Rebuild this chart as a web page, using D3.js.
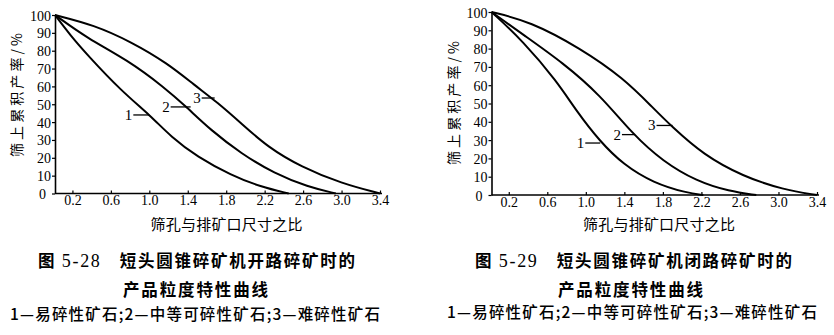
<!DOCTYPE html>
<html><head><meta charset="utf-8">
<script src="https://cdn.jsdelivr.net/npm/d3@7"></script>
<style>
html,body{margin:0;padding:0;background:#fff;}
svg{display:block;}
</style></head>
<body><svg id="c" width="834" height="335"></svg>
<script>
// ---- data ----
const xTicks = [0.2, 0.6, 1.0, 1.4, 1.8, 2.2, 2.6, 3.0, 3.4];
const yTicks = [0, 10, 20, 30, 40, 50, 60, 70, 80, 90, 100];
const seriesNames = ["1", "2", "3"];

// Fig 5-28 (open circuit)
const open1 = [[0,100],[0.18,88.5],[0.356,77.6],[0.70,57.9],[1.017,43.4],[1.225,31.8],[1.50,20.5],[1.85,10.3],[2.16,3.7],[2.45,0]];
const open2 = [[0,100],[0.356,86.9],[0.773,74.8],[1.155,59.5],[1.40,47.8],[1.64,35.5],[1.955,22.4],[2.30,11.2],[2.65,3.7],[2.94,0]];
const open3 = [[0,100],[0.425,94.4],[0.81,85],[1.19,72.9],[1.47,60.7],[1.71,51],[1.955,39.3],[2.23,26.1],[2.58,14.9],[3.0,5.6],[3.4,0]];
// Fig 5-29 (closed circuit)
const closed1 = [[0,100],[0.35,84],[0.70,62.1],[0.905,45.7],[1.146,29.3],[1.39,16.6],[1.70,6.6],[2.05,1.1],[2.22,0]];
const closed2 = [[0,100],[0.35,87.6],[0.766,72.1],[1.146,54.8],[1.49,33],[1.80,18.4],[2.15,7.5],[2.49,2],[2.77,0]];
const closed3 = [[0,100],[0.42,94.9],[0.94,80.3],[1.39,63.9],[1.70,47.5],[1.89,37.5],[2.22,22],[2.63,10.2],[3.05,2.9],[3.4,0]];

// label leader end points [x value, y value] for curves "1","2","3"
const openLabels = [[1.0, 44], [1.43, 48.5], [1.68, 53.5]];
const closedLabels = [[1.15, 28.4], [1.51, 33], [1.90, 38]];

const yTitle = "筛上累积产率/%";
const xTitle = "筛孔与排矿口尺寸之比";
const openFig = "5-28";
const closedFig = "5-29";
const openCaption1 = "短头圆锥碎矿机开路碎矿时的";
const closedCaption1 = "短头圆锥碎矿机闭路碎矿时的";
const caption2 = "产品粒度特性曲线";
const caption3 = "1—易碎性矿石;2—中等可碎性矿石;3—难碎性矿石";

const svg = d3.select("#c");
svg.append("rect").attr("width",834).attr("height",335).attr("fill","#fff");
const SERIF = "Liberation Serif, Times New Roman, serif";
const CJK = "Noto Sans CJK SC";

function panel(cfg){
  const x = d3.scaleLinear().domain([0,3.4]).range([cfg.x0, cfg.x1]);
  const y = d3.scaleLinear().domain([0,100]).range([cfg.y0, cfg.y1]);
  const g = svg.append("g");
  // x axis
  const xa = g.append("g").attr("transform",`translate(0,${cfg.y0})`)
    .call(d3.axisBottom(x).tickValues(xTicks).tickFormat(d3.format(".1f")).tickSizeInner(-3).tickSizeOuter(0).tickPadding(2));
  xa.attr("font-family",SERIF).attr("font-size",14);
  xa.selectAll(".tick text").attr("fill","#000");
  xa.select(".domain").attr("stroke","#000").attr("stroke-width",1.6)
    .attr("d",`M${cfg.axisX},0H${cfg.x1+2}`);
  xa.selectAll(".tick line").attr("stroke","#000").attr("stroke-width",1.2);
  // y axis
  const ya = g.append("g").attr("transform",`translate(${cfg.axisX},0)`)
    .call(d3.axisLeft(y).tickValues(yTicks).tickSizeInner(3).tickSizeOuter(0).tickPadding(1));
  ya.attr("font-family",SERIF).attr("font-size",14);
  ya.selectAll(".tick text").attr("fill","#000").attr("dy","0.36em");
  ya.select(".domain").attr("stroke","#000").attr("stroke-width",1.6);
  ya.selectAll(".tick line").attr("stroke","#000").attr("stroke-width",1.2);
  ya.selectAll(".tick").filter(d=>d===0).select("text").attr("dx",-5);
  // curves
  const line = d3.line().x(d=>x(d[0])).y(d=>y(d[1])).curve(d3.curveBasis);
  const startX = x.invert(cfg.axisX);
  cfg.series.forEach(s=>{
    const pts = s.map((p,k)=>[k===0?startX:p[0], p[1]]);
    g.append("path").datum(pts).attr("d",line).attr("fill","none")
      .attr("stroke","#000").attr("stroke-width",2);
  });
  // labels with leader lines
  cfg.labels.forEach((lp,i)=>{
    const px = x(lp[0]), py = y(lp[1]);
    const len = cfg.leader[i];
    g.append("line").attr("x1",px-len).attr("x2",px).attr("y1",py).attr("y2",py)
      .attr("stroke","#000").attr("stroke-width",1.3);
    g.append("text").attr("x",px-len-1).attr("y",py+5).attr("text-anchor","end")
      .attr("font-family",SERIF).attr("font-size",15).text(seriesNames[i]);
  });
  // y title
  g.append("text").attr("transform",`translate(${cfg.yTitleX},${cfg.yTitleY}) rotate(-90)`)
    .attr("text-anchor","middle").attr("font-family",CJK).attr("font-size",14)
    .attr("textLength",124).attr("lengthAdjust","spacing").text(yTitle);
  // x title
  g.append("text").attr("x",cfg.xTitleX).attr("y",230).attr("text-anchor","middle")
    .attr("font-family",CJK).attr("font-size",15)
    .attr("textLength",152).attr("lengthAdjust","spacing").text(xTitle);
  // caption line 1
  const t1 = g.append("text").attr("x",cfg.capX[0]).attr("y",cfg.capY[0]).attr("text-anchor","middle")
    .attr("font-family",CJK).attr("font-weight",700).attr("font-size",16.5)
    .attr("textLength",317).attr("lengthAdjust","spacing");
  t1.append("tspan").text("图 ");
  t1.append("tspan").attr("font-family",SERIF).attr("font-weight",400).attr("font-size",18).text(cfg.fig);
  t1.append("tspan").text("　" + cfg.cap1);
  // caption line 2
  g.append("text").attr("x",cfg.capX[1]).attr("y",cfg.capY[1]).attr("text-anchor","middle")
    .attr("font-family",CJK).attr("font-weight",700).attr("font-size",16.5)
    .attr("textLength",145).attr("lengthAdjust","spacing").text(caption2);
  // caption line 3
  g.append("text").attr("x",cfg.capX[2]).attr("y",cfg.capY[2]).attr("text-anchor","middle")
    .attr("font-family",CJK).attr("font-weight",500).attr("font-size",15.5)
    .attr("textLength",370).attr("lengthAdjust","spacing").text(caption3);
}

panel({x0:53.2, x1:380, axisX:55, y0:193.5, y1:15, series:[open1,open2,open3],
  labels:openLabels, leader:[16,20,13], yTitleX:22, yTitleY:95, xTitleX:226.5,
  fig:openFig, cap1:openCaption1, capX:[196.5,195.5,195], capY:[267,296,320]});
panel({x0:489.5, x1:817, axisX:491.5, y0:195, y1:12, series:[closed1,closed2,closed3],
  labels:closedLabels, leader:[15,13,16], yTitleX:459, yTitleY:103, xTitleX:659,
  fig:closedFig, cap1:closedCaption1, capX:[633.5,630.5,632], capY:[267,296,318]});
</script></body></html>
